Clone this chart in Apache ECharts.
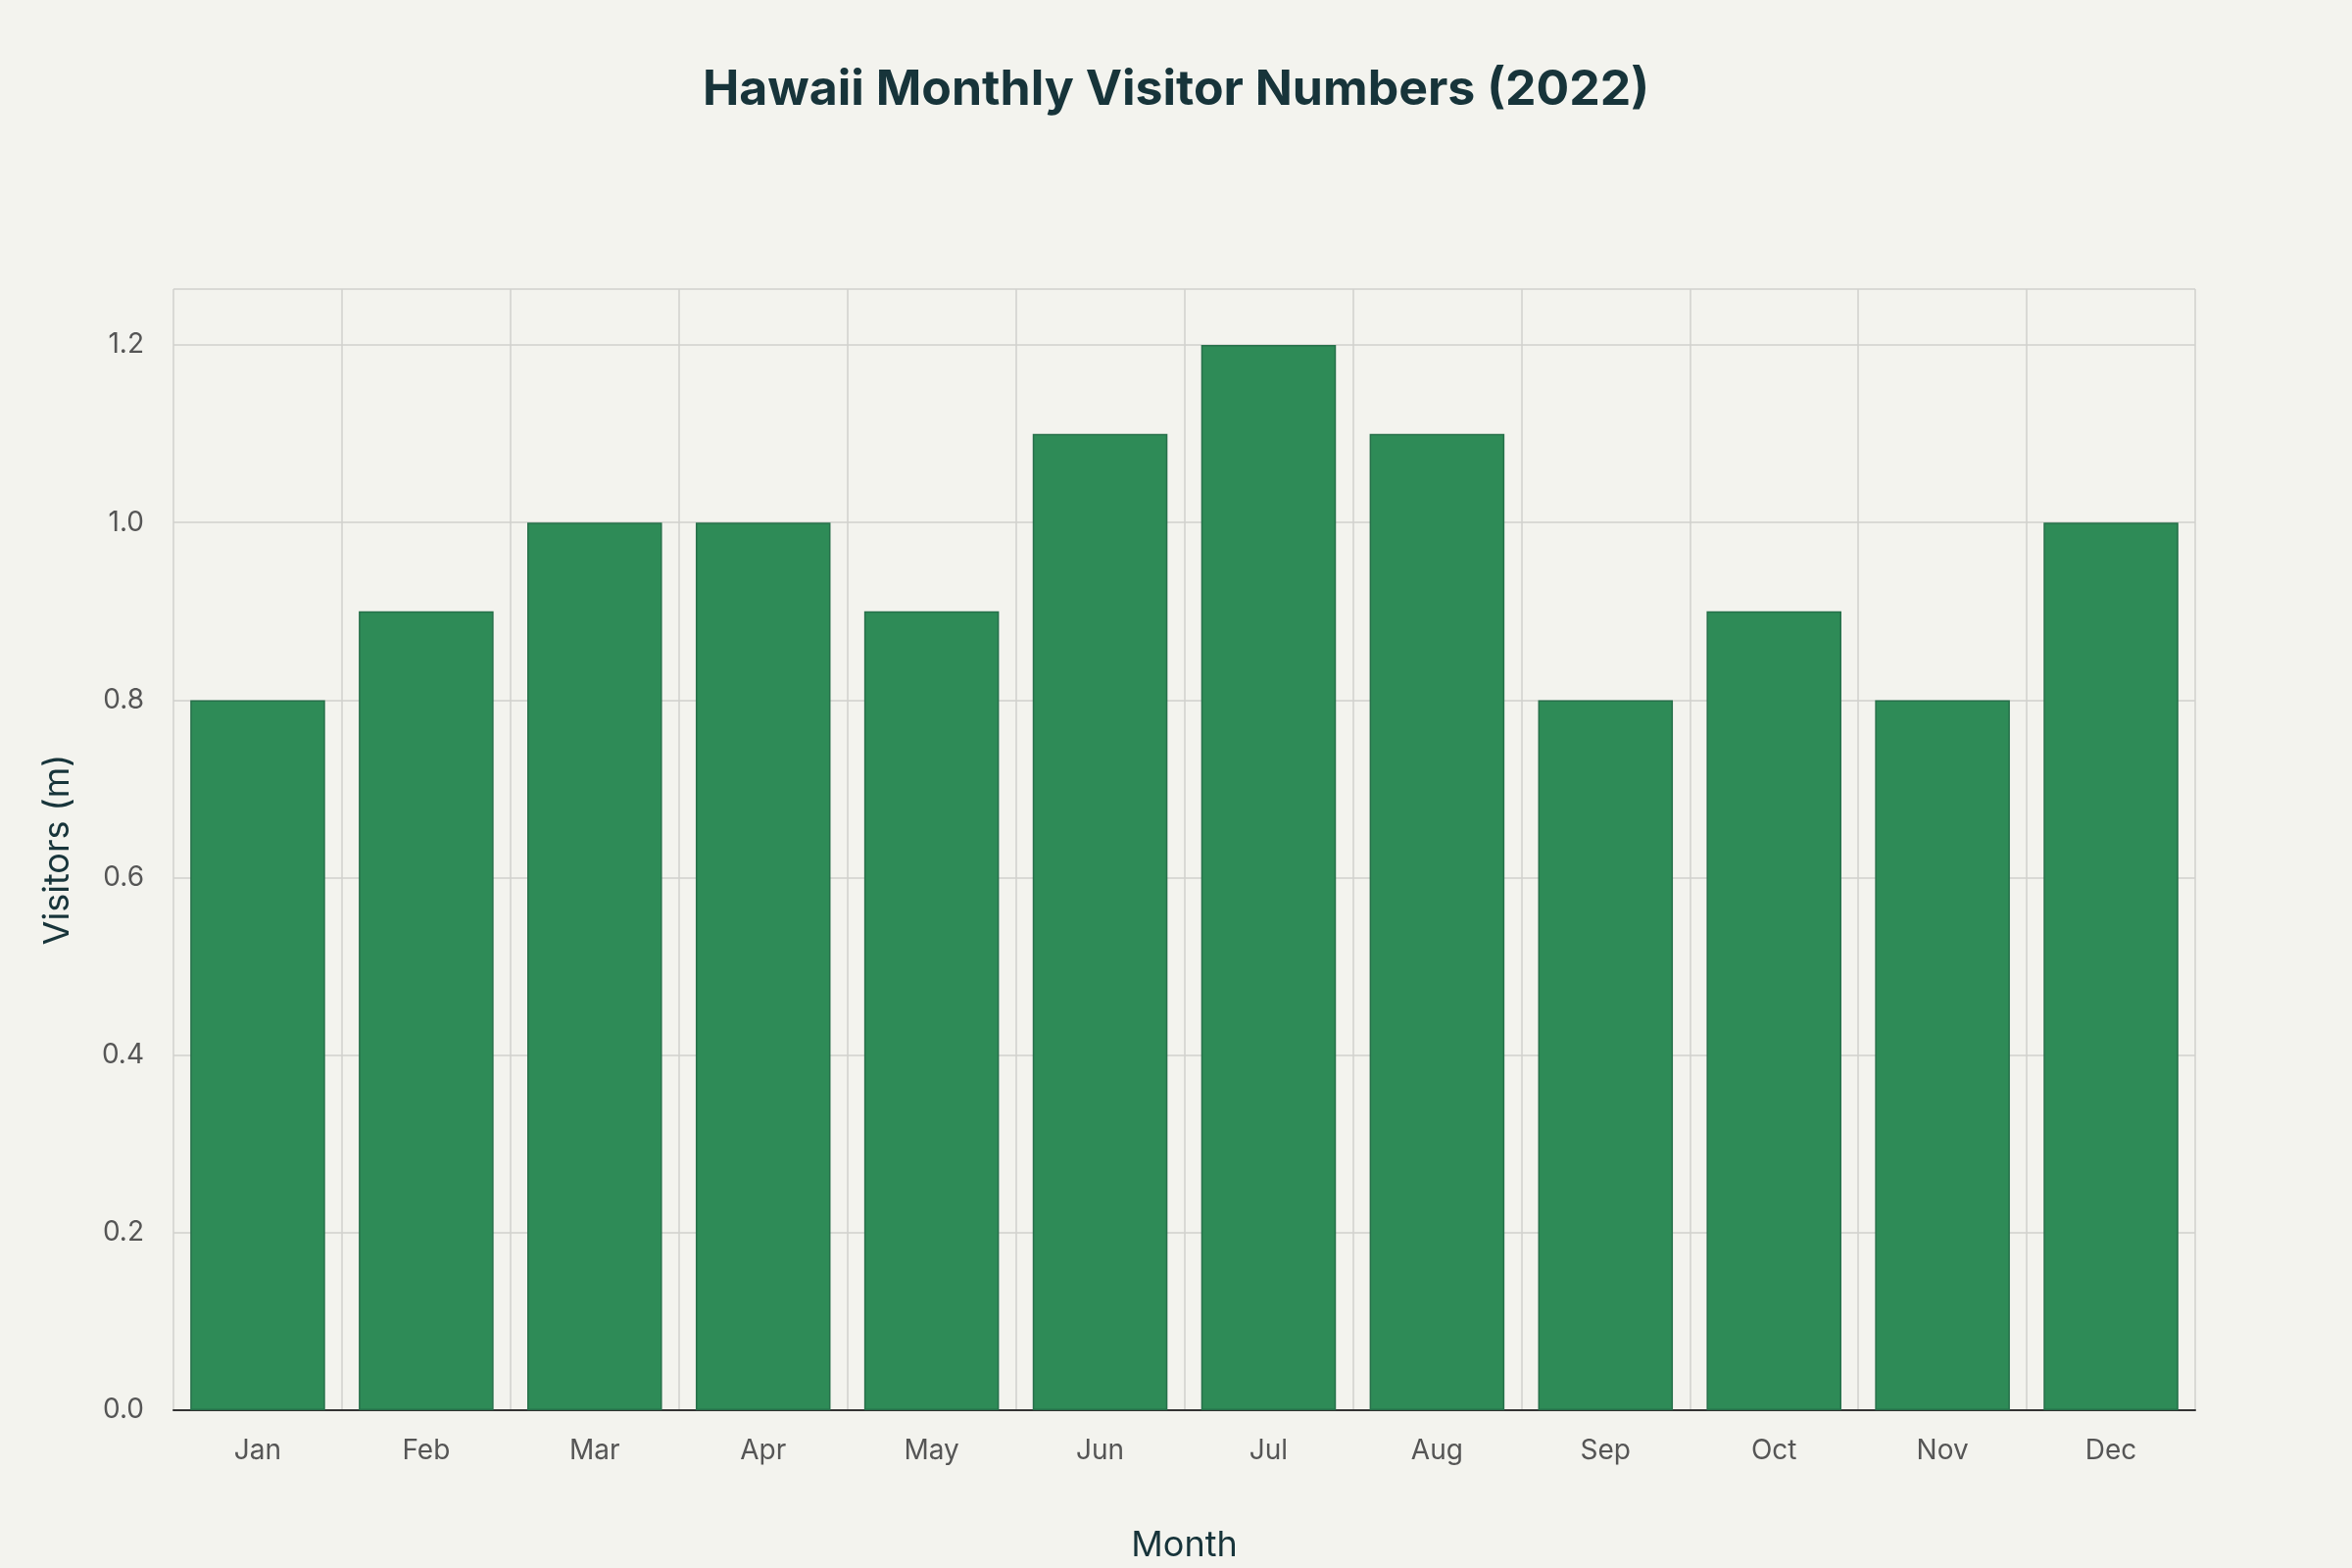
<!DOCTYPE html>
<html><head><meta charset="utf-8">
<script src="https://cdn.jsdelivr.net/npm/echarts@6/dist/echarts.min.js"></script>
<style>html,body{margin:0;padding:0;background:#f3f3ee}#c{width:2400px;height:1600px}</style>
</head><body><div id="c"></div>
<script>
const months=['Jan','Feb','Mar','Apr','May','Jun','Jul','Aug','Sep','Oct','Nov','Dec'];
const visitors=[0.8,0.9,1.0,1.0,0.9,1.1,1.2,1.1,0.8,0.9,0.8,1.0];
const chart=echarts.init(document.getElementById('c'));
const font='Inter, Roboto, sans-serif';
chart.setOption({
 backgroundColor:'#f3f3ee',
 title:{text:'Hawaii Monthly Visitor Numbers (2022)',left:'center',top:62,textStyle:{fontFamily:font,fontSize:50,fontWeight:'bold',color:'#17343a'}},
 grid:{left:177,right:160,top:295,bottom:161},
 xAxis:{type:'category',data:months,name:'Month',nameLocation:'middle',nameGap:120,
  nameTextStyle:{fontFamily:font,fontSize:36,color:'#17343a'},
  axisLine:{lineStyle:{color:'#333',width:2}},axisTick:{show:false},
  axisLabel:{fontFamily:font,fontSize:28,color:'#555',margin:28},
  splitLine:{show:true,interval:0,lineStyle:{color:'#d0d0cc',width:1.5}},
  boundaryGap:true},
 yAxis:{type:'value',min:0,max:1.263,interval:0.2,name:'Visitors (m)',nameLocation:'middle',nameGap:100,
  nameTextStyle:{fontFamily:font,fontSize:36,color:'#17343a'},
  axisLine:{show:false},axisTick:{show:false},
  axisLabel:{fontFamily:font,fontSize:28,color:'#555',margin:30,formatter:v=>v.toFixed(1),showMaxLabel:false},
  splitLine:{lineStyle:{color:'#d0d0cc',width:1.5}}},
 series:[{type:'bar',data:visitors,barWidth:'80%',itemStyle:{color:'#2e8b57',borderColor:'#26704a',borderWidth:1.5}}]
});
</script></body></html>
